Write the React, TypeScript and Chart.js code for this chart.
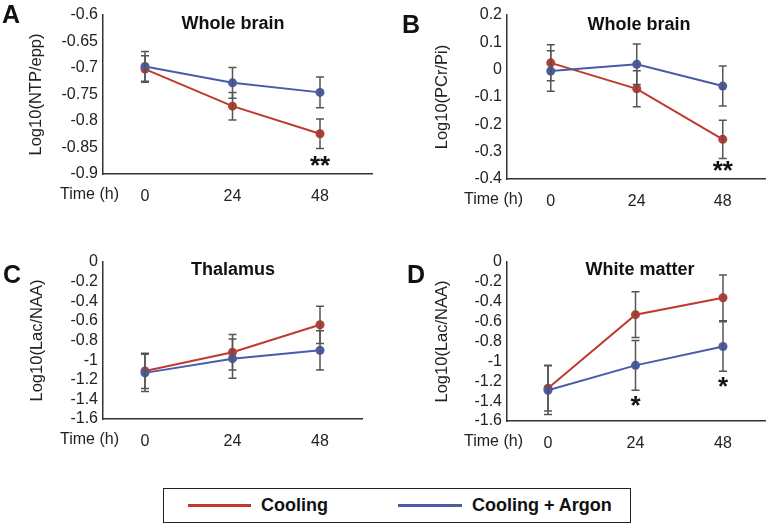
import React, { useEffect, useRef } from "react";
import { Chart, registerables } from "chart.js";
Chart.register(...registerables);

const timeLabels = ["0", "24", "48"];
const seriesNames = ["Cooling", "Cooling + Argon"];
const RED = "#BE3A2E";
const BLUE = "#4A5BA8";

// Panel A: Whole brain, Log10(NTP/epp)
const aCooling = [-0.702, -0.772, -0.824];
const aCoolingErr = [0.025, 0.026, 0.028];
const aArgon = [-0.697, -0.728, -0.746];
const aArgonErr = [0.028, 0.029, 0.029];
const aTicks = [-0.9, -0.6, 0.05];

// Panel B: Whole brain, Log10(PCr/Pi)
const bCooling = [0.025, -0.07, -0.255];
const bCoolingErr = [0.066, 0.066, 0.07];
const bArgon = [-0.005, 0.02, -0.06];
const bArgonErr = [0.074, 0.074, 0.073];
const bTicks = [-0.4, 0.2, 0.1];

// Panel C: Thalamus, Log10(Lac/NAA)
const cCooling = [-1.11, -0.92, -0.64];
const cCoolingErr = [0.18, 0.18, 0.19];
const cArgon = [-1.13, -0.985, -0.9];
const cArgonErr = [0.19, 0.2, 0.2];
const cTicks = [-1.6, 0, 0.2];

// Panel D: White matter, Log10(Lac/NAA)
const dCooling = [-1.27, -0.53, -0.36];
const dCoolingErr = [0.23, 0.23, 0.23];
const dArgon = [-1.29, -1.04, -0.85];
const dArgonErr = [0.245, 0.25, 0.25];
const dTicks = [-1.6, 0, 0.2];

// significance marks: [category index, y value of mark centre, text]
const aStars: [number, number, string][] = [[2, -0.872, "**"]];
const bStars: [number, number, string][] = [[2, -0.345, "**"]];
const cStars: [number, number, string][] = [];
const dStars: [number, number, string][] = [[1, -1.378, "*"], [2, -1.187, "*"]];

const FONT = "'Liberation Sans', Arial, Helvetica, sans-serif";

type Panel = {
  letter: string; title: string; yTitle: string;
  cooling: number[]; coolingErr: number[]; argon: number[]; argonErr: number[];
  ticks: number[]; stars: [number, number, string][];
  left: number; top: number;
  L: number; R: number; T: number; B: number; x0: number; s: number;
  titleX: number; titleBase: number; letterX: number; letterBase: number; yTitlePad: number;
};

const panels: Panel[] = [
  { letter: "A", title: "Whole brain", yTitle: "Log10(NTP/epp)", cooling: aCooling, coolingErr: aCoolingErr, argon: aArgon, argonErr: aArgonErr, ticks: aTicks, stars: aStars,
    left: 0, top: 0, L: 103, R: 372, T: 15, B: 174, x0: 145, s: 87.5, titleX: 233, titleBase: 29, letterX: 2, letterBase: 23, yTitlePad: 27 },
  { letter: "B", title: "Whole brain", yTitle: "Log10(PCr/Pi)", cooling: bCooling, coolingErr: bCoolingErr, argon: bArgon, argonErr: bArgonErr, ticks: bTicks, stars: bStars,
    left: 385, top: 0, L: 122, R: 382, T: 15, B: 179, x0: 166, s: 86.5, titleX: 254, titleBase: 30, letterX: 17, letterBase: 33, yTitlePad: 48 },
  { letter: "C", title: "Thalamus", yTitle: "Log10(Lac/NAA)", cooling: cCooling, coolingErr: cCoolingErr, argon: cArgon, argonErr: cArgonErr, ticks: cTicks, stars: cStars,
    left: 0, top: 225, L: 103, R: 362, T: 37, B: 194, x0: 145, s: 87.5, titleX: 233, titleBase: 50, letterX: 3, letterBase: 58, yTitlePad: 28 },
  { letter: "D", title: "White matter", yTitle: "Log10(Lac/NAA)", cooling: dCooling, coolingErr: dCoolingErr, argon: dArgon, argonErr: dArgonErr, ticks: dTicks, stars: dStars,
    left: 385, top: 225, L: 122, R: 380, T: 37, B: 196, x0: 163, s: 87.5, titleX: 255, titleBase: 50, letterX: 22, letterBase: 58, yTitlePad: 48 },
];

const W = 385;
const H = 225;

function PanelChart({ p }: { p: Panel }) {
  const ref = useRef<HTMLCanvasElement>(null);
  useEffect(() => {
    if (!ref.current) return;
    const decor = {
      id: "decor",
      afterDatasetsDraw(chart: any) {
        const ctx = chart.ctx;
        const xs = chart.scales.x;
        const ys = chart.scales.y;
        ctx.save();
        ctx.strokeStyle = "#555";
        ctx.lineWidth = 1.5;
        const draw = (vals: number[], errs: number[]) => {
          vals.forEach((v, i) => {
            const x = xs.getPixelForValue(i);
            const y1 = ys.getPixelForValue(v + errs[i]);
            const y2 = ys.getPixelForValue(v - errs[i]);
            ctx.beginPath();
            ctx.moveTo(x, y1); ctx.lineTo(x, y2);
            ctx.moveTo(x - 4, y1); ctx.lineTo(x + 4, y1);
            ctx.moveTo(x - 4, y2); ctx.lineTo(x + 4, y2);
            ctx.stroke();
          });
        };
        draw(p.cooling, p.coolingErr);
        draw(p.argon, p.argonErr);
        ctx.restore();
      },
      afterDraw(chart: any) {
        const ctx = chart.ctx;
        const xs = chart.scales.x;
        const ys = chart.scales.y;
        ctx.save();
        ctx.fillStyle = "#111";
        ctx.textBaseline = "alphabetic";
        ctx.textAlign = "left";
        ctx.font = `bold 25px ${FONT}`;
        ctx.fillText(p.letter, p.letterX, p.letterBase);
        ctx.textAlign = "center";
        ctx.font = `bold 18px ${FONT}`;
        ctx.fillText(p.title, p.titleX, p.titleBase);
        ctx.textAlign = "right";
        ctx.textBaseline = "middle";
        ctx.font = `16px ${FONT}`;
        ctx.fillStyle = "#222";
        ctx.fillText("Time (h)", p.L + 16, p.B + 21);
        ctx.fillStyle = "#111";
        ctx.textAlign = "center";
        ctx.textBaseline = "alphabetic";
        ctx.font = `bold 26px ${FONT}`;
        p.stars.forEach(([i, v, t]) => {
          ctx.fillText(t, xs.getPixelForValue(i), ys.getPixelForValue(v) + 15);
        });
        ctx.restore();
      },
    };
    const chart = new Chart(ref.current, {
      type: "line",
      data: {
        datasets: [
          {
            label: seriesNames[0],
            data: p.cooling.map((v, i) => ({ x: i, y: v })),
            borderColor: RED, backgroundColor: RED, pointBackgroundColor: RED,
            borderWidth: 2, pointRadius: 4.5, pointBorderWidth: 0, order: 1,
          },
          {
            label: seriesNames[1],
            data: p.argon.map((v, i) => ({ x: i, y: v })),
            borderColor: BLUE, backgroundColor: BLUE, pointBackgroundColor: BLUE,
            borderWidth: 2, pointRadius: 4.5, pointBorderWidth: 0, order: 0,
          },
        ],
      },
      options: {
        responsive: false,
        animation: false,
        layout: { padding: { left: 0, top: p.T, right: W - p.R, bottom: 0 } },
        plugins: { legend: { display: false }, tooltip: { enabled: false } },
        scales: {
          x: {
            type: "linear",
            min: (p.L - p.x0) / p.s,
            max: (p.R - p.x0) / p.s,
            grid: { display: false, drawTicks: false },
            border: { display: true, color: "#333", width: 1.5 },
            afterBuildTicks: (s: any) => { s.ticks = timeLabels.map((_, i) => ({ value: i })); },
            afterFit: (s: any) => { s.height = H - p.B; },
            ticks: {
              padding: 13,
              autoSkip: false,
              maxRotation: 0,
              color: "#222",
              font: { family: FONT, size: 16 },
              callback: (v: any) => timeLabels[Math.round(Number(v))] ?? "",
            },
          },
          y: {
            min: p.ticks[0],
            max: p.ticks[1],
            grid: { display: false, drawTicks: false },
            border: { display: true, color: "#333", width: 1.5 },
            afterFit: (s: any) => { s.width = p.L; },
            title: {
              display: true,
              text: p.yTitle,
              color: "#222",
              font: { family: FONT, size: 16.5 },
              padding: { top: p.yTitlePad, bottom: 0 },
            },
            ticks: {
              stepSize: p.ticks[2],
              autoSkip: false,
              padding: 5,
              color: "#222",
              font: { family: FONT, size: 16 },
              callback: (v: any) => String(Math.round(Number(v) * 100) / 100),
            },
          },
        },
      },
      plugins: [decor],
    } as any);
    return () => chart.destroy();
  }, [p]);
  return (
    <canvas
      ref={ref}
      width={W}
      height={H}
      style={{ position: "absolute", left: p.left, top: p.top, width: W, height: H }}
    />
  );
}

export default function App() {
  return (
    <div style={{ position: "absolute", left: 0, top: 0, width: 770, height: 525, background: "#fff", fontFamily: FONT }}>
      {panels.map((p) => (
        <PanelChart key={p.letter} p={p} />
      ))}
      <div
        style={{
          position: "absolute", left: 163, top: 488, width: 466, height: 33,
          border: "1.5px solid #222", boxSizing: "content-box",
        }}
      >
        <div style={{ position: "absolute", left: 24, top: 15, width: 63, height: 3, background: RED }} />
        <div style={{ position: "absolute", left: 97, top: 5, fontWeight: "bold", fontSize: 18, color: "#111", lineHeight: "22px" }}>
          {seriesNames[0]}
        </div>
        <div style={{ position: "absolute", left: 234, top: 15, width: 64, height: 3, background: BLUE }} />
        <div style={{ position: "absolute", left: 308, top: 5, fontWeight: "bold", fontSize: 18, color: "#111", lineHeight: "22px" }}>
          {seriesNames[1]}
        </div>
      </div>
    </div>
  );
}
